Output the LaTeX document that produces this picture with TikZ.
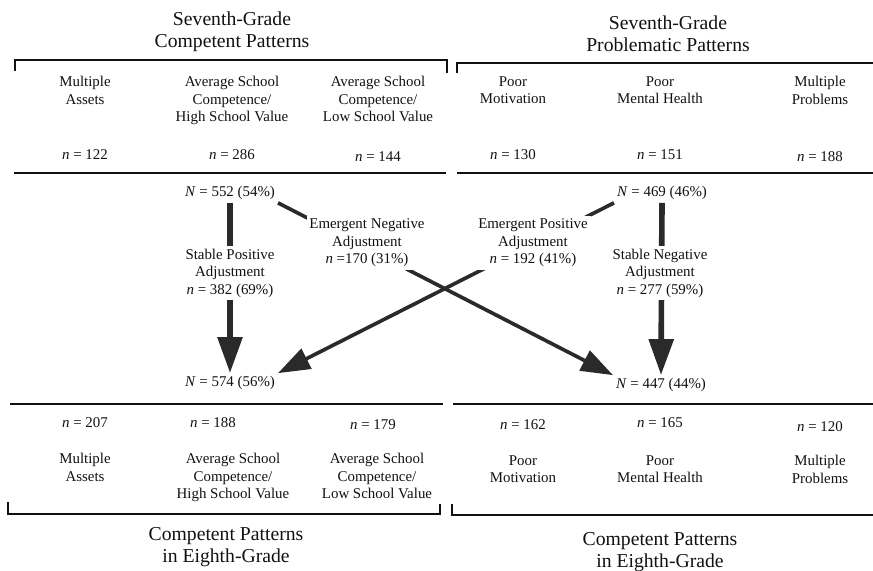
\documentclass[tikz,border=0pt]{standalone}
\usepackage{fontspec}
\setmainfont{Liberation Serif}
\usepackage{xcolor}
\usepackage{tikz}
\usetikzlibrary{arrows.meta}
\definecolor{Ink}{HTML}{111111}
\definecolor{ArrowInk}{HTML}{2A2A2A}
\newcommand{\ncount}[1]{\textit{n} = #1}
\newcommand{\Ntotal}[2]{\textit{N} = #1 (#2\%)}

\begin{document}
\begin{tikzpicture}[x=0.25mm,y=-0.25mm,
  grouptitle/.style={align=center,text=Ink,font=\fontsize{14}{16}\selectfont},
  cell/.style={align=center,text=Ink,anchor=north,inner sep=0pt,font=\fontsize{10.6}{12.4}\selectfont},
  count/.style={text=Ink,inner sep=1pt,font=\fontsize{10.6}{12.4}\selectfont},
  total/.style={text=Ink,inner sep=2pt,font=\fontsize{10.6}{12.4}\selectfont},
  flowlbl/.style={align=center,text=Ink,fill=white,inner sep=2pt,font=\fontsize{10.6}{12.4}\selectfont},
  bracket/.style={draw=Ink,line width=1.3pt},
  rule/.style={draw=Ink,line width=0.9pt},
  stable/.style={draw=ArrowInk,line width=4pt,-{Triangle[length=9mm,width=6mm]}},
  cross/.style={draw=ArrowInk,line width=2.6pt,-{Triangle[length=8mm,width=5.5mm]}}]
  \useasboundingbox (0,0) rectangle (873,570);

  % seventh grade
  \node[grouptitle] (tl) at (232,32) {Seventh-Grade\\Competent Patterns};
  \node[grouptitle] (tr) at (668,34) {Seventh-Grade\\Problematic Patterns};
  \draw[bracket] (15,71) |- (447,60) -- (447,73);
  \draw[bracket] (457,73) |- (873,63);

  \node[cell] (c7a) at (85,76) {Multiple\\Assets};
  \node[cell] (c7b) at (232,76) {Average School\\Competence/\\High School Value};
  \node[cell] (c7c) at (378,76) {Average School\\Competence/\\Low School Value};
  \node[cell] (p7a) at (513,76) {Poor\\Motivation};
  \node[cell] (p7b) at (660,76) {Poor\\Mental Health};
  \node[cell] (p7c) at (820,76) {Multiple\\Problems};

  \node[count] (nc7a) at (85,155) {\ncount{122}};
  \node[count] (nc7b) at (232,155) {\ncount{286}};
  \node[count] (nc7c) at (378,157) {\ncount{144}};
  \node[count] (np7a) at (513,155) {\ncount{130}};
  \node[count] (np7b) at (660,155) {\ncount{151}};
  \node[count] (np7c) at (820,157) {\ncount{188}};
  \draw[rule] (14,173) -- (446,173);
  \draw[rule] (457,173) -- (873,173);

  % totals
  \node[total] (n552) at (230,193) {\Ntotal{552}{54}};
  \node[total] (n469) at (662,193) {\Ntotal{469}{46}};
  \node[total] (n574) at (230,383) {\Ntotal{574}{56}};
  \node[total] (n447) at (661,385) {\Ntotal{447}{44}};

  % transitions
  \draw[stable] (n552.south) -- (n574.north);
  \draw[stable] (n469.south) -- (n447.north);
  \draw[cross] (n552.south east) -- (n447.north west);
  \draw[cross] (n469.south west) -- (n574.north east);

  \node[flowlbl] (spos) at (230,273) {Stable Positive\\Adjustment\\\ncount{382 (69\%)}};
  \node[flowlbl] (eneg) at (367,243) {Emergent Negative\\Adjustment\\\textit{n} =170 (31\%)};
  \node[flowlbl] (epos) at (533,243) {Emergent Positive\\Adjustment\\\ncount{192 (41\%)}};
  \node[flowlbl] (sneg) at (660,273) {Stable Negative\\Adjustment\\\ncount{277 (59\%)}};

  % eighth grade
  \draw[rule] (10,404) -- (443,404);
  \draw[rule] (453,404) -- (873,404);
  \node[count] (nc8a) at (85,423) {\ncount{207}};
  \node[count] (nc8b) at (213,423) {\ncount{188}};
  \node[count] (nc8c) at (373,425) {\ncount{179}};
  \node[count] (np8a) at (523,425) {\ncount{162}};
  \node[count] (np8b) at (660,423) {\ncount{165}};
  \node[count] (np8c) at (820,427) {\ncount{120}};

  \node[cell] (c8a) at (85,453) {Multiple\\Assets};
  \node[cell] (c8b) at (233,453) {Average School\\Competence/\\High School Value};
  \node[cell] (c8c) at (377,453) {Average School\\Competence/\\Low School Value};
  \node[cell] (p8a) at (523,455) {Poor\\Motivation};
  \node[cell] (p8b) at (660,455) {Poor\\Mental Health};
  \node[cell] (p8c) at (820,455) {Multiple\\Problems};

  \draw[bracket] (8,502) |- (440,514) -- (440,504);
  \draw[bracket] (452,504) |- (873,515);
  \node[grouptitle] (bl) at (226,547) {Competent Patterns\\in Eighth-Grade};
  \node[grouptitle] (br) at (660,552) {Competent Patterns\\in Eighth-Grade};
\end{tikzpicture}
\end{document}
